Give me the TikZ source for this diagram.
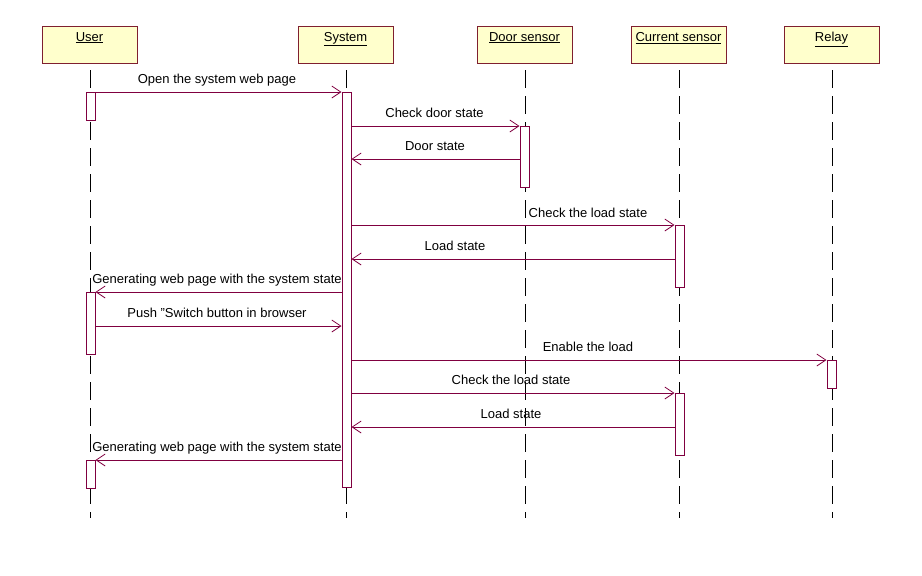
\documentclass[tikz,border=0pt]{standalone}
\usepackage{fontspec}
\setmainfont{Liberation Sans}
\usetikzlibrary{arrows.meta}
\definecolor{msg}{HTML}{800040}
\definecolor{hdbord}{HTML}{7F1F2F}
\definecolor{hdfill}{HTML}{FFFFCC}
\begin{document}
\begin{tikzpicture}[x=1pt,y=-1pt,
  font=\fontsize{13}{15}\selectfont,
  head/.style={draw=hdbord,fill=hdfill,line width=1pt,minimum width=95pt,minimum height=37pt,inner sep=0pt},
  headtxt/.style={anchor=north,inner sep=0pt},
  life/.style={line width=0.9pt,dash pattern=on 18pt off 8pt},
  act/.style={draw=msg,fill=white,line width=1pt,minimum width=9pt,inner sep=0pt},
  msgline/.style={draw=msg,line width=1pt,-{Straight Barb[length=9pt,width=12pt,line width=0.8pt]}},
  lbl/.style={inner sep=0pt,anchor=base}]
\useasboundingbox (0,0) rectangle (922,576);
% heads
\node[head] (hU) at (89.5,44.5) {};
\node[head] (hS) at (345.5,44.5) {};
\node[head] (hD) at (524.5,44.5) {};
\node[head] (hC) at (678.5,44.5) {};
\node[head] (hR) at (831.5,44.5) {};
\node[headtxt] (tU) at (hU.north |- 0,32) {\underline{User}};
\node[headtxt] (tS) at (hS.north |- 0,32) {\underline{System}};
\node[headtxt] (tD) at (hD.north |- 0,32) {\underline{Door sensor}};
\node[headtxt] (tC) at (hC.north |- 0,32) {\underline{Current sensor}};
\node[headtxt] (tR) at (hR.north |- 0,32) {\underline{Relay}};
% lifeline ends
\coordinate (eU) at (90,518);
\coordinate (eS) at (346,518);
\coordinate (eD) at (525,518);
\coordinate (eC) at (679,518);
\coordinate (eR) at (832,518);
\draw[life] (90,70) -- (eU);
\draw[life] (346,70) -- (eS);
\draw[life] (525,70) -- (eD);
\draw[life] (679,70) -- (eC);
\draw[life] (832,70) -- (eR);
% activations
\node[act,minimum height=28pt] (aU1) at (90.5,106) {};
\node[act,minimum height=395pt] (aS) at (346.5,289.5) {};
\node[act,minimum height=61pt] (aD) at (524.5,156.5) {};
\node[act,minimum height=62pt] (aC1) at (679.5,256) {};
\node[act,minimum height=62pt] (aU2) at (90.5,323) {};
\node[act,minimum height=28pt] (aR) at (831.5,374) {};
\node[act,minimum height=62pt] (aC2) at (679.5,424) {};
\node[act,minimum height=28pt] (aU3) at (90.5,474) {};
% message rows
\coordinate (m1) at (0,92);
\coordinate (m2) at (0,126);
\coordinate (m3) at (0,159);
\coordinate (m4) at (0,225);
\coordinate (m5) at (0,259);
\coordinate (m6) at (0,292);
\coordinate (m7) at (0,326);
\coordinate (m8) at (0,360);
\coordinate (m9) at (0,393);
\coordinate (m10) at (0,427);
\coordinate (m11) at (0,460);
\draw[msgline] (aU1.east |- m1) -- (aS.west |- m1);
\draw[msgline] (aS.east |- m2) -- (aD.west |- m2);
\draw[msgline] (aD.west |- m3) -- (aS.east |- m3);
\draw[msgline] (aS.east |- m4) -- (aC1.west |- m4);
\draw[msgline] (aC1.west |- m5) -- (aS.east |- m5);
\draw[msgline] (aS.west |- m6) -- (aU2.east |- m6);
\draw[msgline] (aU2.east |- m7) -- (aS.west |- m7);
\draw[msgline] (aS.east |- m8) -- (aR.west |- m8);
\draw[msgline] (aS.east |- m9) -- (aC2.west |- m9);
\draw[msgline] (aC2.west |- m10) -- (aS.east |- m10);
\draw[msgline] (aS.west |- m11) -- (aU3.east |- m11);
% labels
\node[lbl] (l1) at (217,83) {Open the system web page};
\node[lbl] (l2) at (434.5,117) {Check door state};
\node[lbl] (l3) at (435,150) {Door state};
\node[lbl] (l4) at (588,217) {Check the load state};
\node[lbl] (l5) at (455,250) {Load state};
\node[lbl] (l6) at (217,283) {Generating web page with the system state};
\node[lbl] (l7) at (217,317) {Push "Switch button in browser};
\node[lbl] (l8) at (588,351) {Enable the load};
\node[lbl] (l9) at (511,384) {Check the load state};
\node[lbl] (l10) at (511,418) {Load state};
\node[lbl] (l11) at (217,451) {Generating web page with the system state};
\end{tikzpicture}
\end{document}
